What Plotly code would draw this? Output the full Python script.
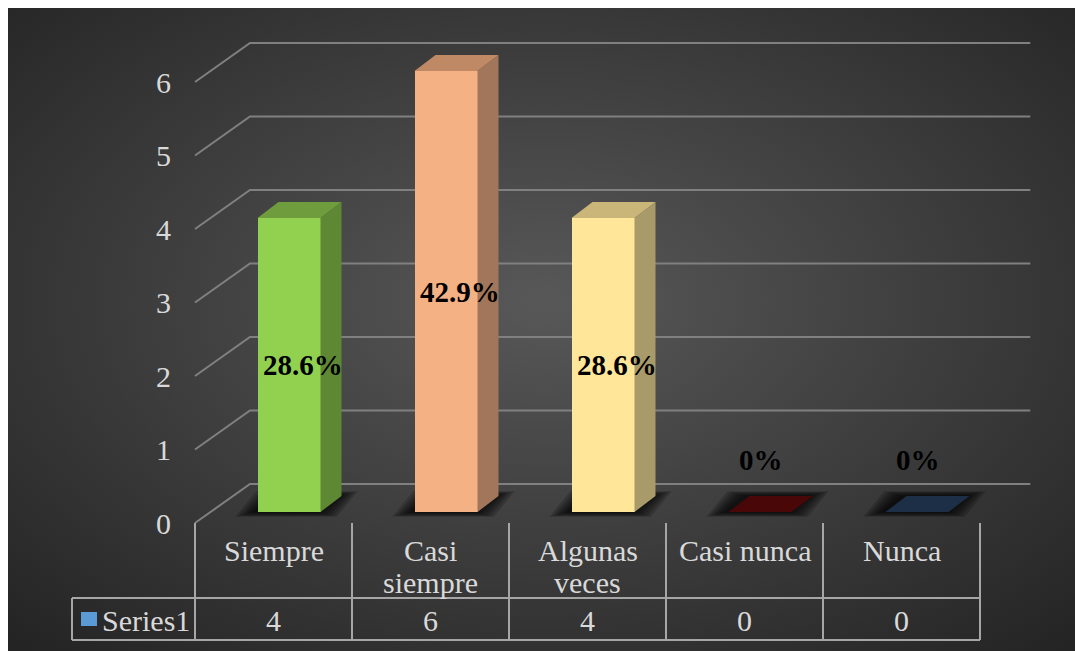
import base64
import plotly.graph_objects as go

# ---- data -----------------------------------------------------------------
categories = ["Siempre", "Casi siempre", "Algunas veces", "Casi nunca", "Nunca"]
category_lines = [["Siempre"], ["Casi", "siempre"], ["Algunas", "veces"], ["Casi nunca"], ["Nunca"]]
values = [4, 6, 4, 0, 0]
series_name = "Series1"
y_ticks = [0, 1, 2, 3, 4, 5, 6]

# ---- styles ---------------------------------------------------------------
front_colors = ["#92D050", "#F4B183", "#FFE699", "#4A0707", "#1C2F46"]
top_colors = ["#6F9D3E", "#C08966", "#C9B678", "#4A0707", "#1C2F46"]
side_colors = ["#5E8833", "#A2765A", "#A89A69", "#3A0505", "#152436"]
FONT = "Liberation Serif, Times New Roman, serif"
TEXT = "#D9D9D9"
GRID = "#808080"
TABLE = "#A6A6A6"
TEXT_SIZE = 30

W, H = 1075, 651
PX_X, PX_Y = 157.0, 73.5          # pixels per category / per value unit
X0_PX, Y0_PX = 328.5, 484.0       # back-wall origin (category 0, value 0)

# oblique projection (data units)
FLOOR_DX, FLOOR_DY = -55 / PX_X, -39 / PX_Y     # back wall -> front of floor
BAR_DX, BAR_DY = -39.5 / PX_X, -28 / PX_Y       # back wall -> bar front face
DEPTH_DX, DEPTH_DY = 21 / PX_X, 16 / PX_Y       # bar front face -> bar back face
HALF_W = 31.5 / PX_X

x_range = [-X0_PX / PX_X, (W - X0_PX) / PX_X]
y_range = [(Y0_PX - H) / PX_Y, Y0_PX / PX_Y]


def py(px):
    """vertical pixel -> value units"""
    return (Y0_PX - px) / PX_Y


# ---- background: radial gradient panel ------------------------------------
svg = (
    "<svg xmlns='http://www.w3.org/2000/svg' width='1075' height='651' preserveAspectRatio='none'>"
    "<defs><radialGradient id='g' cx='0.5' cy='0.45' r='0.72'>"
    "<stop offset='0' stop-color='#585858'/><stop offset='1' stop-color='#242424'/>"
    "</radialGradient></defs><rect width='1075' height='651' fill='url(#g)'/></svg>"
)
bg_src = "data:image/svg+xml;base64," + base64.b64encode(svg.encode()).decode()

fig = go.Figure()
shapes = []
annotations = []

# white frame strips along the top and left edge
shapes.append(dict(type="rect", xref="paper", yref="paper", x0=-0.01, x1=1.01,
                   y0=1 - 8 / H, y1=1.01, fillcolor="#FFFFFF", line=dict(width=0), layer="below"))
shapes.append(dict(type="rect", xref="paper", yref="paper", x0=-0.01, x1=8 / W,
                   y0=-0.01, y1=1.01, fillcolor="#FFFFFF", line=dict(width=0), layer="below"))

# ---- walls / gridlines ----------------------------------------------------
x_back_left = -0.5
x_back_right = len(categories) - 0.5 - 0.03
x_front_left = x_back_left + FLOOR_DX
for v in y_ticks:
    shapes.append(dict(
        type="path", xref="x", yref="y", layer="below",
        path=f"M {x_front_left},{v + FLOOR_DY} L {x_back_left},{v} L {x_back_right},{v}",
        line=dict(color=GRID, width=2),
    ))
    annotations.append(dict(
        x=(163 - X0_PX) / PX_X, y=v + FLOOR_DY, xref="x", yref="y",
        text=str(v), showarrow=False, xanchor="center", yanchor="middle",
        font=dict(family=FONT, size=TEXT_SIZE, color=TEXT),
    ))

# ---- bar footprints: soft shadows -----------------------------------------
for i, v in enumerate(values):
    xl = i + BAR_DX - HALF_W - 3 / PX_X
    xr = i + BAR_DX + HALF_W - 3 / PX_X
    yf, yb = BAR_DY, BAR_DY + DEPTH_DY
    for k in range(1, 7):
        ex, ey = k * 3.2 / PX_X, k * 0.8 / PX_Y
        shapes.append(dict(
            type="path", xref="x", yref="y", layer="below",
            path=(f"M {xl - ex},{yf - ey} L {xr + ex},{yf - ey} "
                  f"L {xr + DEPTH_DX + ex},{yb + ey} L {xl + DEPTH_DX - ex},{yb + ey} Z"),
            fillcolor="rgba(0,0,0,0.19)", line=dict(width=0),
        ))

# ---- bars: front faces ----------------------------------------------------
bar_x = [i + BAR_DX for i in range(len(categories))]
fig.add_trace(go.Bar(
    x=bar_x, y=values, base=BAR_DY, width=2 * HALF_W,
    marker=dict(color=front_colors, line=dict(width=0)),
    hoverinfo="skip", showlegend=False,
))

# ---- bars: side and top faces ---------------------------------------------
for i, v in enumerate(values):
    xl, xr = bar_x[i] - HALF_W, bar_x[i] + HALF_W
    y_bot, y_top = BAR_DY, BAR_DY + v
    if v > 0:
        fig.add_trace(go.Scatter(
            x=[xr, xr, xr + DEPTH_DX, xr + DEPTH_DX, xr],
            y=[y_bot, y_top, y_top + DEPTH_DY, y_bot + DEPTH_DY, y_bot],
            fill="toself", fillcolor=side_colors[i], mode="lines",
            line=dict(width=0, color=side_colors[i]), hoverinfo="skip", showlegend=False,
        ))
    fig.add_trace(go.Scatter(
        x=[xl, xr, xr + DEPTH_DX, xl + DEPTH_DX, xl],
        y=[y_top, y_top, y_top + DEPTH_DY, y_top + DEPTH_DY, y_top],
        fill="toself", fillcolor=top_colors[i], mode="lines",
        line=dict(width=0, color=top_colors[i]), hoverinfo="skip", showlegend=False,
    ))

# ---- data labels (share of total) -----------------------------------------
total = sum(values)
for i, v in enumerate(values):
    pct = v / total * 100
    label = f"{pct:.1f}%" if v else "0%"
    if v:
        lx, ly = bar_x[i] + 14 / PX_X, BAR_DY + v / 2
    else:
        lx, ly = bar_x[i] + 1 / PX_X, BAR_DY + v + 0.71
    annotations.append(dict(
        x=lx, y=ly, xref="x", yref="y", text=f"<b>{label}</b>", showarrow=False,
        xanchor="center", yanchor="middle",
        font=dict(family=FONT, size=29, color="#000000"),
    ))

# ---- data table -----------------------------------------------------------
y_floor = FLOOR_DY
y_mid = py(598)
y_bottom = py(640)
x_legend = (72 - X0_PX) / PX_X
col_edges = [x_front_left + j for j in range(len(categories) + 1)]
for xe in col_edges:
    shapes.append(dict(type="line", xref="x", yref="y", x0=xe, x1=xe, y0=y_floor, y1=y_bottom,
                       line=dict(color=TABLE, width=2)))
shapes.append(dict(type="line", xref="x", yref="y", x0=x_legend, x1=x_legend, y0=y_mid, y1=y_bottom,
                   line=dict(color=TABLE, width=2)))
for yy in (y_mid, y_bottom):
    shapes.append(dict(type="line", xref="x", yref="y", x0=x_legend, x1=col_edges[-1], y0=yy, y1=yy,
                       line=dict(color=TABLE, width=2)))

line_y = [py(550), py(582)]
for i, lines in enumerate(category_lines):
    cx = x_front_left + i + 0.5
    for j, t in enumerate(lines):
        annotations.append(dict(
            x=cx, y=line_y[j], xref="x", yref="y", text=t, showarrow=False,
            xanchor="center", yanchor="middle", font=dict(family=FONT, size=TEXT_SIZE, color=TEXT),
        ))
    annotations.append(dict(
        x=cx, y=py(620), xref="x", yref="y", text=str(values[i]), showarrow=False,
        xanchor="center", yanchor="middle", font=dict(family=FONT, size=TEXT_SIZE, color=TEXT),
    ))

# legend key in the table
shapes.append(dict(type="rect", xref="x", yref="y",
                   x0=(81 - X0_PX) / PX_X, x1=(97 - X0_PX) / PX_X, y0=py(626), y1=py(612),
                   fillcolor="#5B9BD5", line=dict(width=0)))
annotations.append(dict(
    x=(146 - X0_PX) / PX_X, y=py(620), xref="x", yref="y", text=series_name, showarrow=False,
    xanchor="center", yanchor="middle", font=dict(family=FONT, size=TEXT_SIZE, color=TEXT),
))

fig.update_layout(
    width=W, height=H, autosize=False,
    margin=dict(l=0, r=0, t=0, b=0, pad=0),
    paper_bgcolor="#262626", plot_bgcolor="rgba(0,0,0,0)",
    xaxis=dict(range=x_range, visible=False, fixedrange=True),
    yaxis=dict(range=y_range, visible=False, fixedrange=True),
    shapes=shapes, annotations=annotations, showlegend=False,
    images=[dict(source=bg_src, xref="paper", yref="paper", x=8 / W, y=1 - 8 / H,
                 sizex=1.0, sizey=1.0, sizing="stretch",
                 xanchor="left", yanchor="top", layer="below")],
    bargap=0,
)

fig.write_html("out.html")
